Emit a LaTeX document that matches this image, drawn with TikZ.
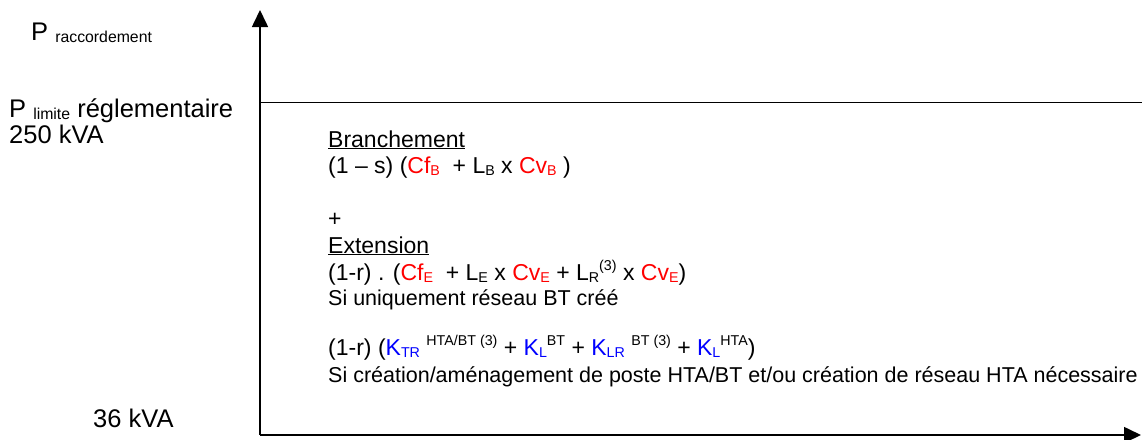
\documentclass[tikz,border=0pt]{standalone}
\usepackage{fontspec}
\setmainfont{Liberation Sans}
\usepackage{xcolor}
\usetikzlibrary{arrows.meta}
\newcommand{\bas}[1]{\raisebox{-0.1em}{\scalebox{0.62}{#1}}}
\newcommand{\haut}[1]{\raisebox{0.42em}{\scalebox{0.62}{#1}}}

\begin{document}
\begin{tikzpicture}[x=1pt,y=-1pt,
	lbl/.style={anchor=base west, inner sep=0pt, font=\fontsize{23}{27}\selectfont},
	note/.style={lbl, font=\fontsize{21.5}{25}\selectfont},
	axlbl/.style={lbl, font=\fontsize{25.5}{30}\selectfont},
	axe/.style={line width=1.6pt, -{Triangle[width=16pt,length=17pt]}}]
			\useasboundingbox (0,0) rectangle (1142,439);
			
			% Fixed coordinates
			\coordinate (origine) at (260,435);
			\coordinate (ytop) at (260,10);
			\coordinate (xfin) at (1141,435);
			\coordinate (lim) at (260,102);
			\coordinate (limfin) at (1142,102);
			
			% Axes and limit line
			\draw[axe] (origine) -- (ytop);
			\draw[axe] (origine) -- (xfin);
			\draw[line width=1pt] (lim) -- (limfin);
			
			% Axis labels
			\node[axlbl] (prac) at (31,40) {P \bas{raccordement}};
			\node[axlbl] (plim) at (9,117) {P \bas{limite} réglementaire};
			\node[axlbl] (p250) at (9,143) {250 kVA};
			\node[axlbl] (p36) at (93,427) {36 kVA};
			
			% Formula block
			\node[lbl] (branch) at (328,147) {\underline{Branchement}};
			\node[lbl] (fbranch) at (328,173) {(1 – s) (\textcolor{red}{Cf\bas{B}}~ + L\bas{B} x \textcolor{red}{Cv\bas{B}} )};
			\node[lbl] (plus) at (328,226) {+};
			\node[lbl] (ext) at (328,253) {\underline{Extension}};
			\node[lbl] (fext) at (328,280) {(1-r) . (\textcolor{red}{Cf\bas{E}}~ + L\bas{E} x \textcolor{red}{Cv\bas{E}} + L\bas{R}\haut{(3)} x \textcolor{red}{Cv\bas{E}})};
			\node[note] (sibt) at (328,305) {Si uniquement réseau BT créé};
			\node[lbl] (fhta) at (328,355) {(1-r) (\textcolor{blue}{K\bas{TR}} \haut{HTA/BT (3)} + \textcolor{blue}{K\bas{L}}\haut{BT} + \textcolor{blue}{K\bas{LR}} \haut{BT (3)} + \textcolor{blue}{K\bas{L}}\haut{HTA})};
			\node[note] (sihta) at (328,382) {Si création/aménagement de poste HTA/BT et/ou création de réseau HTA nécessaire};
		\end{tikzpicture}
\end{document}
